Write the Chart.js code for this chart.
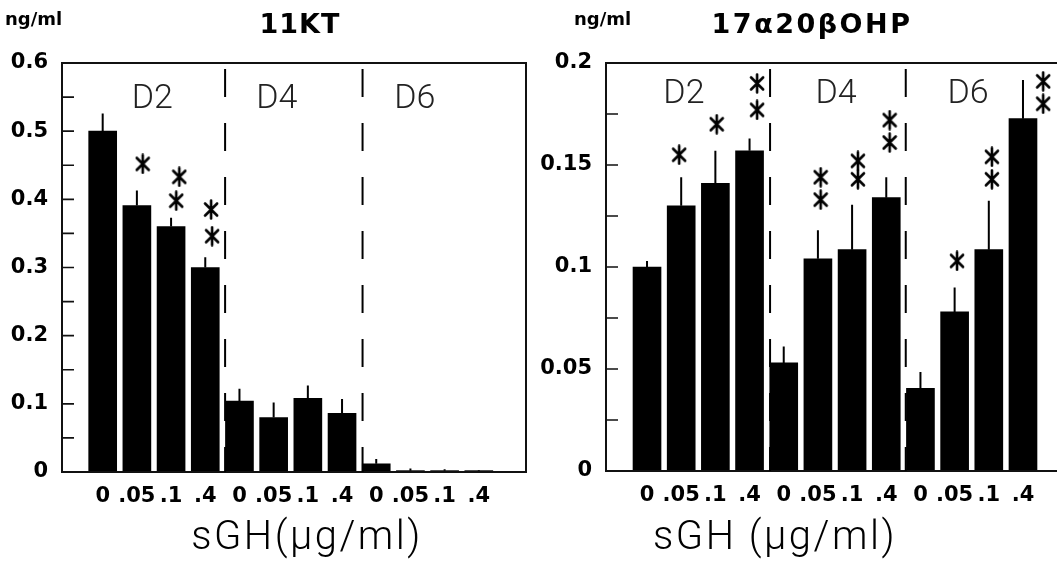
<!DOCTYPE html>
<html><head><meta charset="utf-8">
<script src="https://cdn.jsdelivr.net/npm/chart.js@4.4.0/dist/chart.umd.min.js"></script>
<style>
html,body{margin:0;padding:0;background:#fff;overflow:hidden;width:1057px;height:575px}
#wrap{position:relative;width:1057px;height:575px;overflow:hidden;background:#fff}
.c{position:absolute;top:0;height:575px}
.t{position:absolute;white-space:nowrap;color:#000;transform:translateX(-50%)}
.unit{position:absolute;white-space:nowrap;color:#000;font:bold 18px "DejaVu Sans";line-height:18px}
.title{font:bold 27px "DejaVu Sans";line-height:27px;top:10px}
.xt{font:300 40px Roboto,"Open Sans",sans-serif;line-height:40px;top:516px;letter-spacing:2.5px}
</style></head><body><div id="wrap">
<div class="c" style="left:0;width:535px"><canvas id="c1"></canvas></div>
<div class="c" style="left:535px;width:560px"><canvas id="c2"></canvas></div>
<div class="unit" style="left:5px;top:10px">ng/ml</div>
<div class="unit" style="left:574px;top:10px">ng/ml</div>
<div class="t title" style="left:300px;letter-spacing:1px">11KT</div>
<div class="t title" style="left:812px;letter-spacing:2.5px">17α20βOHP</div>
<div class="t xt" style="left:307px">sGH(µg/ml)</div>
<div class="t xt" style="left:775px">sGH (µg/ml)</div>
</div>
<script>
// ---- shared categories ----
const xLabels = ['0','.05','.1','.4','0','.05','.1','.4','0','.05','.1','.4'];
const groupNames = ['D2','D4','D6'];

// ---- 11KT ----
const ktMean = [0.500,0.391,0.360,0.300, 0.104,0.080,0.108,0.086, 0.012,0.002,0.002,0.002];
const ktErr  = [0.026,0.022,0.013,0.015, 0.018,0.022,0.019,0.021, 0.007,0.003,0.002,0.001];
const ktStarX = [1.17, 2.24, 2.15, 3.17, 3.2];
const ktStarY = [0.452, 0.433, 0.398, 0.385, 0.346];
const ktYTicks = [0,0.1,0.2,0.3,0.4,0.5,0.6];
const ktYLabels = ['0','0.1','0.2','0.3','0.4','0.5','0.6'];
const ktMinor = [0.05,0.1,0.15,0.2,0.25,0.3,0.35,0.4,0.45,0.5,0.55];
const ktGroupX = [1.45, 5.09, 9.13];
const ktSepX = [3.58, 7.6];

// ---- 17a20bOHP ----
const ohpMean = [0.100,0.130,0.141,0.157, 0.053,0.104,0.1085,0.134, 0.0405,0.078,0.1085,0.1727];
const ohpErr  = [0.003,0.014,0.016,0.006, 0.008,0.014,0.022,0.010, 0.008,0.012,0.024,0.019];
const ohpStarX = [0.94, 2.04, 3.22,3.22, 5.08,5.08, 6.17,6.17, 7.1,7.1, 9.07, 10.09,10.09, 11.59,11.59];
const ohpStarY = [0.155, 0.170, 0.177,0.190, 0.144,0.133, 0.152,0.143, 0.172,0.161, 0.103, 0.154,0.143, 0.191,0.180];
const ohpYTicks = [0,0.05,0.1,0.15,0.2];
const ohpYLabels = ['0','0.05','0.1','0.15','0.2'];
const ohpMinor = [0.025,0.05,0.075,0.1,0.125,0.15,0.175];
const ohpGroupX = [1.08, 5.53, 9.39];
const ohpSepX = [3.6, 7.57];

const xIdx = xLabels.map((_, i) => i);

function starImage(){
  const c = document.createElement('canvas');
  c.width = 16; c.height = 21;
  const g = c.getContext('2d');
  g.strokeStyle = '#000'; g.lineWidth = 2.6; g.lineCap = 'round';
  g.beginPath();
  g.moveTo(8,1.5); g.lineTo(8,19.5);
  g.moveTo(2,4.5); g.lineTo(14,16.5);
  g.moveTo(14,4.5); g.lineTo(2,16.5);
  g.stroke();
  return c;
}
const STAR = starImage();

function makeChart(id, cfg){
  const deco = {
    id: 'deco',
    afterDatasetsDraw(chart){
      const {ctx, chartArea: a, scales: {x, y}} = chart;
      ctx.save();
      // frame
      ctx.strokeStyle = '#111'; ctx.lineWidth = 2;
      ctx.strokeRect(a.left, a.top, a.right - a.left, a.bottom - a.top);
      // inward tick marks
      ctx.lineWidth = 1.6;
      ctx.beginPath();
      cfg.minor.forEach(v => { const py = y.getPixelForValue(v); ctx.moveTo(a.left, py); ctx.lineTo(a.left + 12, py); });
      ctx.stroke();
      // error bars
      ctx.lineWidth = 2; ctx.strokeStyle = '#000';
      ctx.beginPath();
      cfg.mean.forEach((m, i) => {
        const px = x.getPixelForValue(i);
        ctx.moveTo(px, y.getPixelForValue(m)); ctx.lineTo(px, y.getPixelForValue(m + cfg.err[i]));
      });
      ctx.stroke();
      // dashed separators
      ctx.setLineDash([28, 26]); ctx.lineDashOffset = 48; ctx.lineWidth = 2;
      ctx.beginPath();
      cfg.sep.forEach(s => { const px = x.getPixelForValue(s); ctx.moveTo(px, a.top); ctx.lineTo(px, a.bottom); });
      ctx.stroke();
      ctx.setLineDash([]);
      // group labels
      ctx.fillStyle = '#222'; ctx.font = '300 34px Roboto, "Open Sans", sans-serif';
      ctx.textAlign = 'center'; ctx.textBaseline = 'middle';
      cfg.groupX.forEach((gx, i) => ctx.fillText(groupNames[i], x.getPixelForValue(gx), a.top + cfg.groupDy));
      ctx.restore();
    }
  };
  return new Chart(document.getElementById(id), {
    type: 'bar',
    data: {
      datasets: [
        { type: 'bar', data: cfg.mean.map((v, i) => ({x: i, y: v})), backgroundColor: '#000', borderWidth: 0, barThickness: 28, order: 2 },
        { type: 'scatter', data: cfg.starX.map((v, i) => ({x: v, y: cfg.starY[i]})), pointStyle: STAR, pointRadius: 8, order: 1 }
      ]
    },
    options: {
      responsive: true, maintainAspectRatio: false, animation: false,
      layout: { padding: { left: 0, right: cfg.padRight, top: 63, bottom: 0 } },
      plugins: { legend: { display: false }, tooltip: { enabled: false } },
      scales: {
        x: {
          type: 'linear', min: cfg.xmin, max: cfg.xmax, offset: false,
          grid: { display: false, drawTicks: false }, border: { display: false },
          afterBuildTicks: s => { s.ticks = xIdx.map(v => ({value: v})); },
          afterFit: s => { s.height = cfg.xHeight; },
          ticks: { autoSkip: false, maxRotation: 0, minRotation: 0, padding: 12, color: '#000',
                   font: { family: 'DejaVu Sans', weight: 'bold', size: 21 },
                   callback: v => xLabels[Math.round(v)] }
        },
        y: {
          min: 0, max: cfg.ymax,
          grid: { display: false, drawTicks: false }, border: { display: false },
          afterBuildTicks: s => { s.ticks = cfg.yTicks.map(v => ({value: v})); },
          afterFit: s => { s.width = cfg.yWidth; },
          ticks: { padding: 14, color: '#000', font: { family: 'DejaVu Sans', weight: 'bold', size: 21 },
                   callback: (v) => cfg.yLabels[cfg.yTicks.findIndex(t => Math.abs(t - v) < 1e-9)] }
        }
      }
    },
    plugins: [deco]
  });
}

makeChart('c1', { mean: ktMean, err: ktErr, starX: ktStarX, starY: ktStarY, yTicks: ktYTicks, yLabels: ktYLabels,
  minor: ktMinor, groupX: ktGroupX, sep: ktSepX, ymax: 0.6, xmin: -1.19, xmax: 12.38,
  yWidth: 62, xHeight: 103, padRight: 6, groupDy: 36 });
makeChart('c2', { mean: ohpMean, err: ohpErr, starX: ohpStarX, starY: ohpStarY, yTicks: ohpYTicks, yLabels: ohpYLabels,
  minor: ohpMinor, groupX: ohpGroupX, sep: ohpSepX, ymax: 0.2, xmin: -1.2, xmax: 12.2,
  yWidth: 71, xHeight: 104, padRight: 31, groupDy: 31 });
</script>
</body></html>
